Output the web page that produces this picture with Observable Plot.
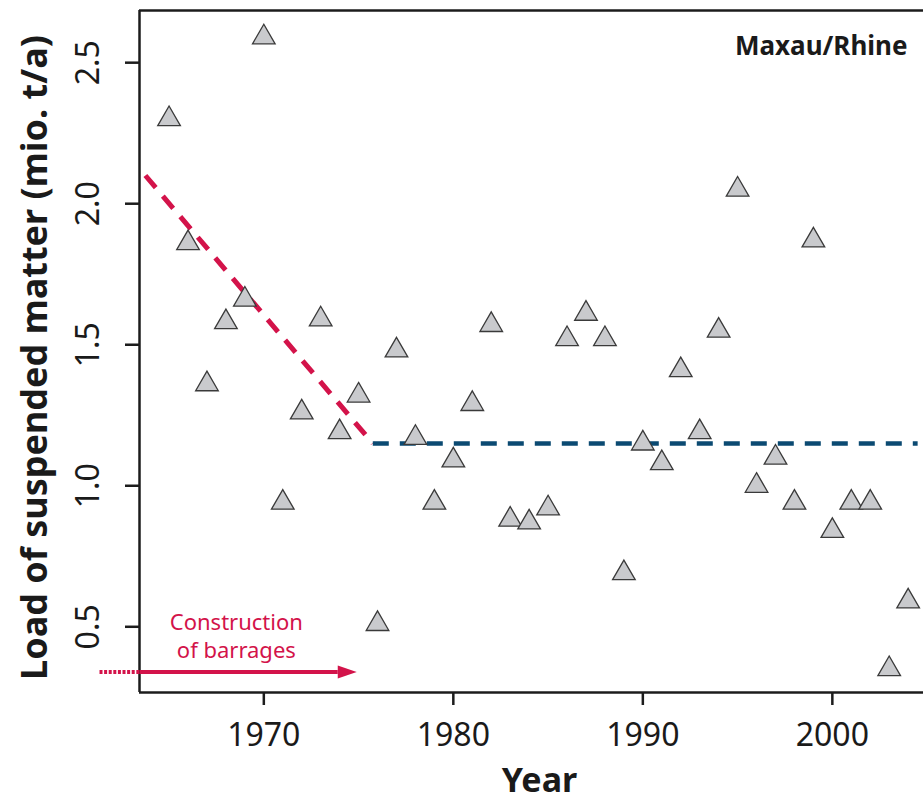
<!DOCTYPE html>
<html>
<head>
<meta charset="utf-8">
<script src="https://cdn.jsdelivr.net/npm/d3@7"></script>
<script src="https://cdn.jsdelivr.net/npm/@observablehq/plot@0.6"></script>
<style>
  body { margin: 0; background: #fff; }
  svg { display: block; }
</style>
</head>
<body>
<div id="chart"></div>
<script>
// Annual load of suspended matter at Maxau (Rhine), million t per year
const years = [
  1965, 1966, 1967, 1968, 1969, 1970, 1971, 1972, 1973, 1974,
  1975, 1976, 1977, 1978, 1979, 1980, 1981, 1982, 1983, 1984,
  1985, 1986, 1987, 1988, 1989, 1990, 1991, 1992, 1993, 1994,
  1995, 1996, 1997, 1998, 1999, 2000, 2001, 2002, 2003, 2004
];
const loads = [
  2.30, 1.86, 1.36, 1.58, 1.66, 2.59, 0.94, 1.26, 1.59, 1.19,
  1.32, 0.51, 1.48, 1.17, 0.94, 1.09, 1.29, 1.57, 0.88, 0.87,
  0.92, 1.52, 1.61, 1.52, 0.69, 1.15, 1.08, 1.41, 1.19, 1.55,
  2.05, 1.00, 1.10, 0.94, 1.87, 0.84, 0.94, 0.94, 0.35, 0.59
];

// Axis ranges and ticks
const xDomain = [1963.44, 2004.81];
const yDomain = [0.267, 2.685];
const xTicks = [1970, 1980, 1990, 2000];
const yTicks = [0.5, 1.0, 1.5, 2.0, 2.5];

// Broken-line trend: declining while barrages were built, flat afterwards
const trendYearsBefore = [1963.75, 1975.75];
const trendLoadsBefore = [2.10, 1.15];
const trendYearsAfter = [1975.75, 2004.5];
const trendLoadsAfter = [1.15, 1.15];

// Barrage construction period arrow (dotted lead-in, solid shaft, head)
const leadInYears = [1961.33, 1963.44];
const shaftYears = [1963.44, 1973.9];
const arrowLevel = 0.34;
const noteYear = 1968.55;
const noteLevel = 0.47;

const red = "#d3134a";
const blue = "#0b4a72";
const ink = "#1c1c1c";

const points = years.map((year, i) => ({year, load: loads[i]}));
const before = trendYearsBefore.map((year, i) => ({year, load: trendLoadsBefore[i]}));
const after = trendYearsAfter.map((year, i) => ({year, load: trendLoadsAfter[i]}));

// Filled arrowhead pointing right, base at the anchor point
const arrowHead = {
  draw(ctx) {
    ctx.moveTo(19, 0);
    ctx.lineTo(0, -6.5);
    ctx.lineTo(0, 6.5);
    ctx.closePath();
  }
};

const chart = Plot.plot({
  width: 923,
  height: 802,
  marginLeft: 139,
  marginTop: 10,
  marginRight: 0,
  marginBottom: 110,
  style: {fontFamily: "Noto Sans", fontSize: "32px", color: "#222", background: "#fff"},
  x: {domain: xDomain},
  y: {domain: yDomain},
  marks: [
    // Axes: ticks and labels
    Plot.axisX(xTicks, {
      anchor: "bottom", tickSize: 13, tickPadding: 18, strokeWidth: 2.5, stroke: ink,
      fill: "#1a1a1a", fontSize: 32, tickFormat: d3.format("d"), label: null
    }),
    Plot.axisY(yTicks, {
      anchor: "left", tickSize: 14, tickPadding: 27, tickRotate: -90, strokeWidth: 2.5, stroke: ink,
      fill: "#1a1a1a", fontSize: 32, tickFormat: d3.format(".1f"), label: null
    }),
    // Box on left, top and bottom
    Plot.ruleX([xDomain[0]], {stroke: ink, strokeWidth: 2.5}),
    Plot.ruleY([yDomain[0], yDomain[1]], {stroke: ink, strokeWidth: 2.5}),
    // Trend lines
    Plot.line(before, {
      x: "year", y: "load", stroke: red, strokeWidth: 5,
      strokeDasharray: "16,11", strokeLinecap: "butt"
    }),
    Plot.line(after, {
      x: "year", y: "load", stroke: blue, strokeWidth: 4.5,
      strokeDasharray: "16,11", strokeLinecap: "butt"
    }),
    // Observations
    Plot.dot(points, {
      x: "year", y: "load", symbol: "triangle", r: 8.4,
      fill: "#c9cacd", stroke: "#3a3a3a", strokeWidth: 1.3
    }),
    // Construction of barrages arrow
    Plot.line(leadInYears, {
      x: d => d, y: () => arrowLevel, stroke: red, strokeWidth: 4,
      strokeDasharray: "3,1.6", strokeLinecap: "butt"
    }),
    Plot.line(shaftYears, {x: d => d, y: () => arrowLevel, stroke: red, strokeWidth: 4, strokeLinecap: "butt"}),
    Plot.dot([shaftYears[1]], {x: d => d, y: () => arrowLevel, symbol: arrowHead, fill: red, stroke: "none", r: 5}),
    Plot.text(["Construction\nof barrages"], {
      x: () => noteYear, y: () => noteLevel, text: d => d, fill: red,
      fontSize: 22, lineHeight: 1.24, textAnchor: "middle", lineAnchor: "middle", letterSpacing: "1.6px"
    }),
    // Titles
    Plot.text(["Maxau/Rhine"], {
      frameAnchor: "top-right", dx: -16, dy: 26, text: d => d, textAnchor: "end",
      fontSize: 26, fontWeight: "bold", fill: "#1a1a1a", letterSpacing: "1.6px"
    }),
    Plot.text(["Load of suspended matter (mio. t/a)"], {
      frameAnchor: "left", dx: -104, dy: 6, rotate: -90, text: d => d,
      fontSize: 36, fontWeight: "bold", fill: "#1a1a1a", textAnchor: "middle", lineAnchor: "middle",
      letterSpacing: "0.4px"
    }),
    Plot.text(["Year"], {
      frameAnchor: "bottom", dx: 8, dy: 89, text: d => d,
      fontSize: 34, fontWeight: "bold", fill: "#1a1a1a", textAnchor: "middle", lineAnchor: "middle"
    })
  ]
});

document.getElementById("chart").appendChild(chart);
</script>
</body>
</html>
